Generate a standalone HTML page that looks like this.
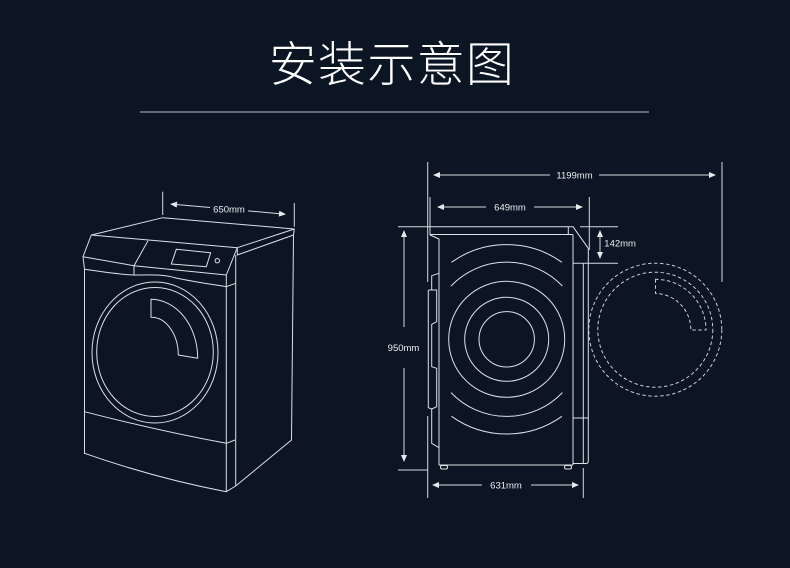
<!DOCTYPE html>
<html><head><meta charset="utf-8"><style>
html,body{margin:0;padding:0;background:#0b1524;}
svg{display:block;}
</style></head><body>
<svg width="790" height="568" viewBox="0 0 790 568" xmlns="http://www.w3.org/2000/svg">
<rect width="790" height="568" fill="#0b1524"/>
<text x="392" y="81" text-anchor="middle" font-family="'Liberation Sans','Noto Sans CJK SC',sans-serif" font-size="48" font-weight="300" letter-spacing="1.3" fill="#ffffff">安装示意图</text>
<line x1="140" y1="112" x2="649" y2="112" stroke="#7d838b" stroke-width="1.5"/>

<!-- LEFT MACHINE -->
<g fill="none" stroke="#dde1e6" stroke-width="1" stroke-linejoin="round">
<path d="M91.3,235 L162.7,217.7 L294.3,229 L237.3,247.7 Z"/>
<path d="M294.3,229 L293.5,235 L237.3,255 L237.3,247.7"/>
<path d="M91.3,235 L83,256.7 L84.5,269.3 L84.5,454"/>
<path d="M83,256.7 L134,265.7 L226.3,275"/>
<path d="M148,240.7 L134,265.7 L134,275"/>
<path d="M84.5,269.3 C110,273 125,275 134,275 C150,275 162,274 176,278 C195,282 210,284 226.3,286.7"/>
<path d="M237.3,247.7 L226.3,275 L226.3,491.7"/>
<path d="M226.3,286.7 L235.7,283.3"/>
<path d="M235.7,255 L235.7,486"/>
<path d="M293.5,235 L291.5,440 L235.7,486"/>
<path d="M226.3,491.7 L235.7,486"/>
<path d="M84.5,411.7 Q155,430 226.3,443.3 L235,440"/>
<path d="M84.5,453.3 Q155,478 226.3,491.7"/>
<path d="M176.3,249.3 L210.7,252.7 L206.3,266.7 L171.3,264 Z"/>
<circle cx="217.3" cy="260.7" r="2.2"/>
<ellipse cx="155" cy="352.5" rx="63" ry="70.5"/>
<ellipse cx="155" cy="352" rx="58.3" ry="64.5"/>
<path d="M151,299.3 L151,317.3 A27,38 0 0 1 178.3,355 L197.7,358.3 A47,59 0 0 0 151,299.3 Z"/>
</g>
<!-- 650 dim -->
<g stroke="#d6dadf" stroke-width="1" fill="none">
<line x1="162.7" y1="191.7" x2="162.7" y2="215"/>
<line x1="294.3" y1="203" x2="294.3" y2="226.7"/>
<line x1="176" y1="204.5" x2="210" y2="207.5"/>
<line x1="248" y1="210.9" x2="280" y2="213.7"/>
</g>
<g fill="#e6e9ec">
<polygon points="170,204 177.24,201.63 176.70,207.61"/>
<polygon points="286,214.3 279.30,210.69 278.76,216.67"/>
</g>

<!-- SIDE VIEW -->
<g fill="none" stroke="#d6dadf" stroke-width="1">
<!-- extension lines -->
<line x1="427.7" y1="162" x2="427.7" y2="282"/>
<line x1="427.7" y1="416" x2="427.7" y2="498"/>
<line x1="430" y1="197" x2="430" y2="235"/>
<line x1="398" y1="226.7" x2="430" y2="226.7"/>
<line x1="398" y1="470" x2="427.7" y2="470"/>
<line x1="589.3" y1="197" x2="589.3" y2="250"/>
<line x1="580" y1="226.7" x2="618" y2="226.7"/>
<line x1="573" y1="263.3" x2="618" y2="263.3"/>
<line x1="722" y1="162" x2="722" y2="282"/>
<line x1="583.3" y1="468" x2="583.3" y2="498"/>
<!-- dim lines -->
<line x1="439" y1="175" x2="550" y2="175"/>
<line x1="599" y1="175" x2="710" y2="175"/>
<line x1="443" y1="207" x2="486" y2="207"/>
<line x1="534" y1="207" x2="577" y2="207"/>
<line x1="438" y1="485" x2="482" y2="485"/>
<line x1="531" y1="485" x2="573" y2="485"/>
<line x1="404" y1="236" x2="404" y2="327"/>
<line x1="404" y1="368" x2="404" y2="456"/>
<line x1="600" y1="236" x2="600" y2="253"/>
</g>
<g fill="#e6e9ec">
<polygon points="433,175 440,172 440,178"/>
<polygon points="716,175 709,172 709,178"/>
<polygon points="437,207 444,204 444,210"/>
<polygon points="583,207 576,204 576,210"/>
<polygon points="432,485 439,482 439,488"/>
<polygon points="579,485 572,482 572,488"/>
<polygon points="404,230 401,237 407,237"/>
<polygon points="404,462 401,455 407,455"/>
<polygon points="600,230 597,237 603,237"/>
<polygon points="600,259 597,252 603,252"/>
</g>
<g fill="none" stroke="#dde1e6" stroke-width="1" stroke-linejoin="round">
<path d="M430,226.7 L573,226.7 L588.3,248.3 L588.3,461 Q588.3,463.5 586,463.5 L573,463.5"/>
<line x1="568.3" y1="226.7" x2="568.3" y2="234.5"/>
<line x1="430" y1="234.5" x2="573" y2="234.5"/>
<line x1="573" y1="234.5" x2="573" y2="465"/>
<line x1="583.3" y1="263.3" x2="583.3" y2="463.5"/>
<line x1="573" y1="418" x2="588.3" y2="418"/>
<path d="M430,235 L439,239 L439,465 L573,465"/>
<path d="M439,273.3 L431.7,275.7 L431.7,290"/>
<path d="M428.3,291 Q428.3,290 429.5,290 L436.7,290 L436.7,321.7 L431.7,324.3 L431.7,366.7 L436.7,368.3 L436.7,406.7 L431.7,409 L428.3,407.7 Z"/>
<path d="M431.7,409 L431.7,443.3 L439,447.7"/>
<rect x="440.5" y="465.5" width="7" height="3.5" rx="1.5"/>
<rect x="564.5" y="465.5" width="7" height="3.5" rx="1.5"/>
<circle cx="506.7" cy="339.3" r="27.7"/>
<circle cx="506.7" cy="339.3" r="42"/>
<circle cx="506.7" cy="339.3" r="58"/>
<path d="M451,286 A77,77 0 0 1 562.4,286"/>
<path d="M451,392.6 A77,77 0 0 0 562.4,392.6"/>
<path d="M451.5,262.3 A95,95 0 0 1 561.9,262.3"/>
<path d="M451.5,416.3 A95,95 0 0 0 561.9,416.3"/>
</g>
<!-- dashed door -->
<g fill="none" stroke="#c9cdd3" stroke-width="1" stroke-dasharray="3.5 2.5">
<circle cx="655.3" cy="329.7" r="66.5"/>
<circle cx="655.3" cy="329.7" r="57.5"/>
<path d="M655.5,279.3 L655.5,293.5 A36,36 0 0 1 690.8,330 L706,330 A50.5,50.5 0 0 0 655.5,279.3 Z"/>
</g>

<!-- labels -->
<g font-family="'Liberation Sans',sans-serif" font-size="9.5" fill="#eceef0">
<text x="229" y="212.7" text-anchor="middle">650mm</text>
<text x="574.5" y="178.4" text-anchor="middle">1199mm</text>
<text x="510" y="210.4" text-anchor="middle">649mm</text>
<text x="506" y="488.4" text-anchor="middle">631mm</text>
<text x="403.5" y="351" text-anchor="middle">950mm</text>
<text x="604.3" y="246.7">142mm</text>
</g>
</svg>
</body></html>
